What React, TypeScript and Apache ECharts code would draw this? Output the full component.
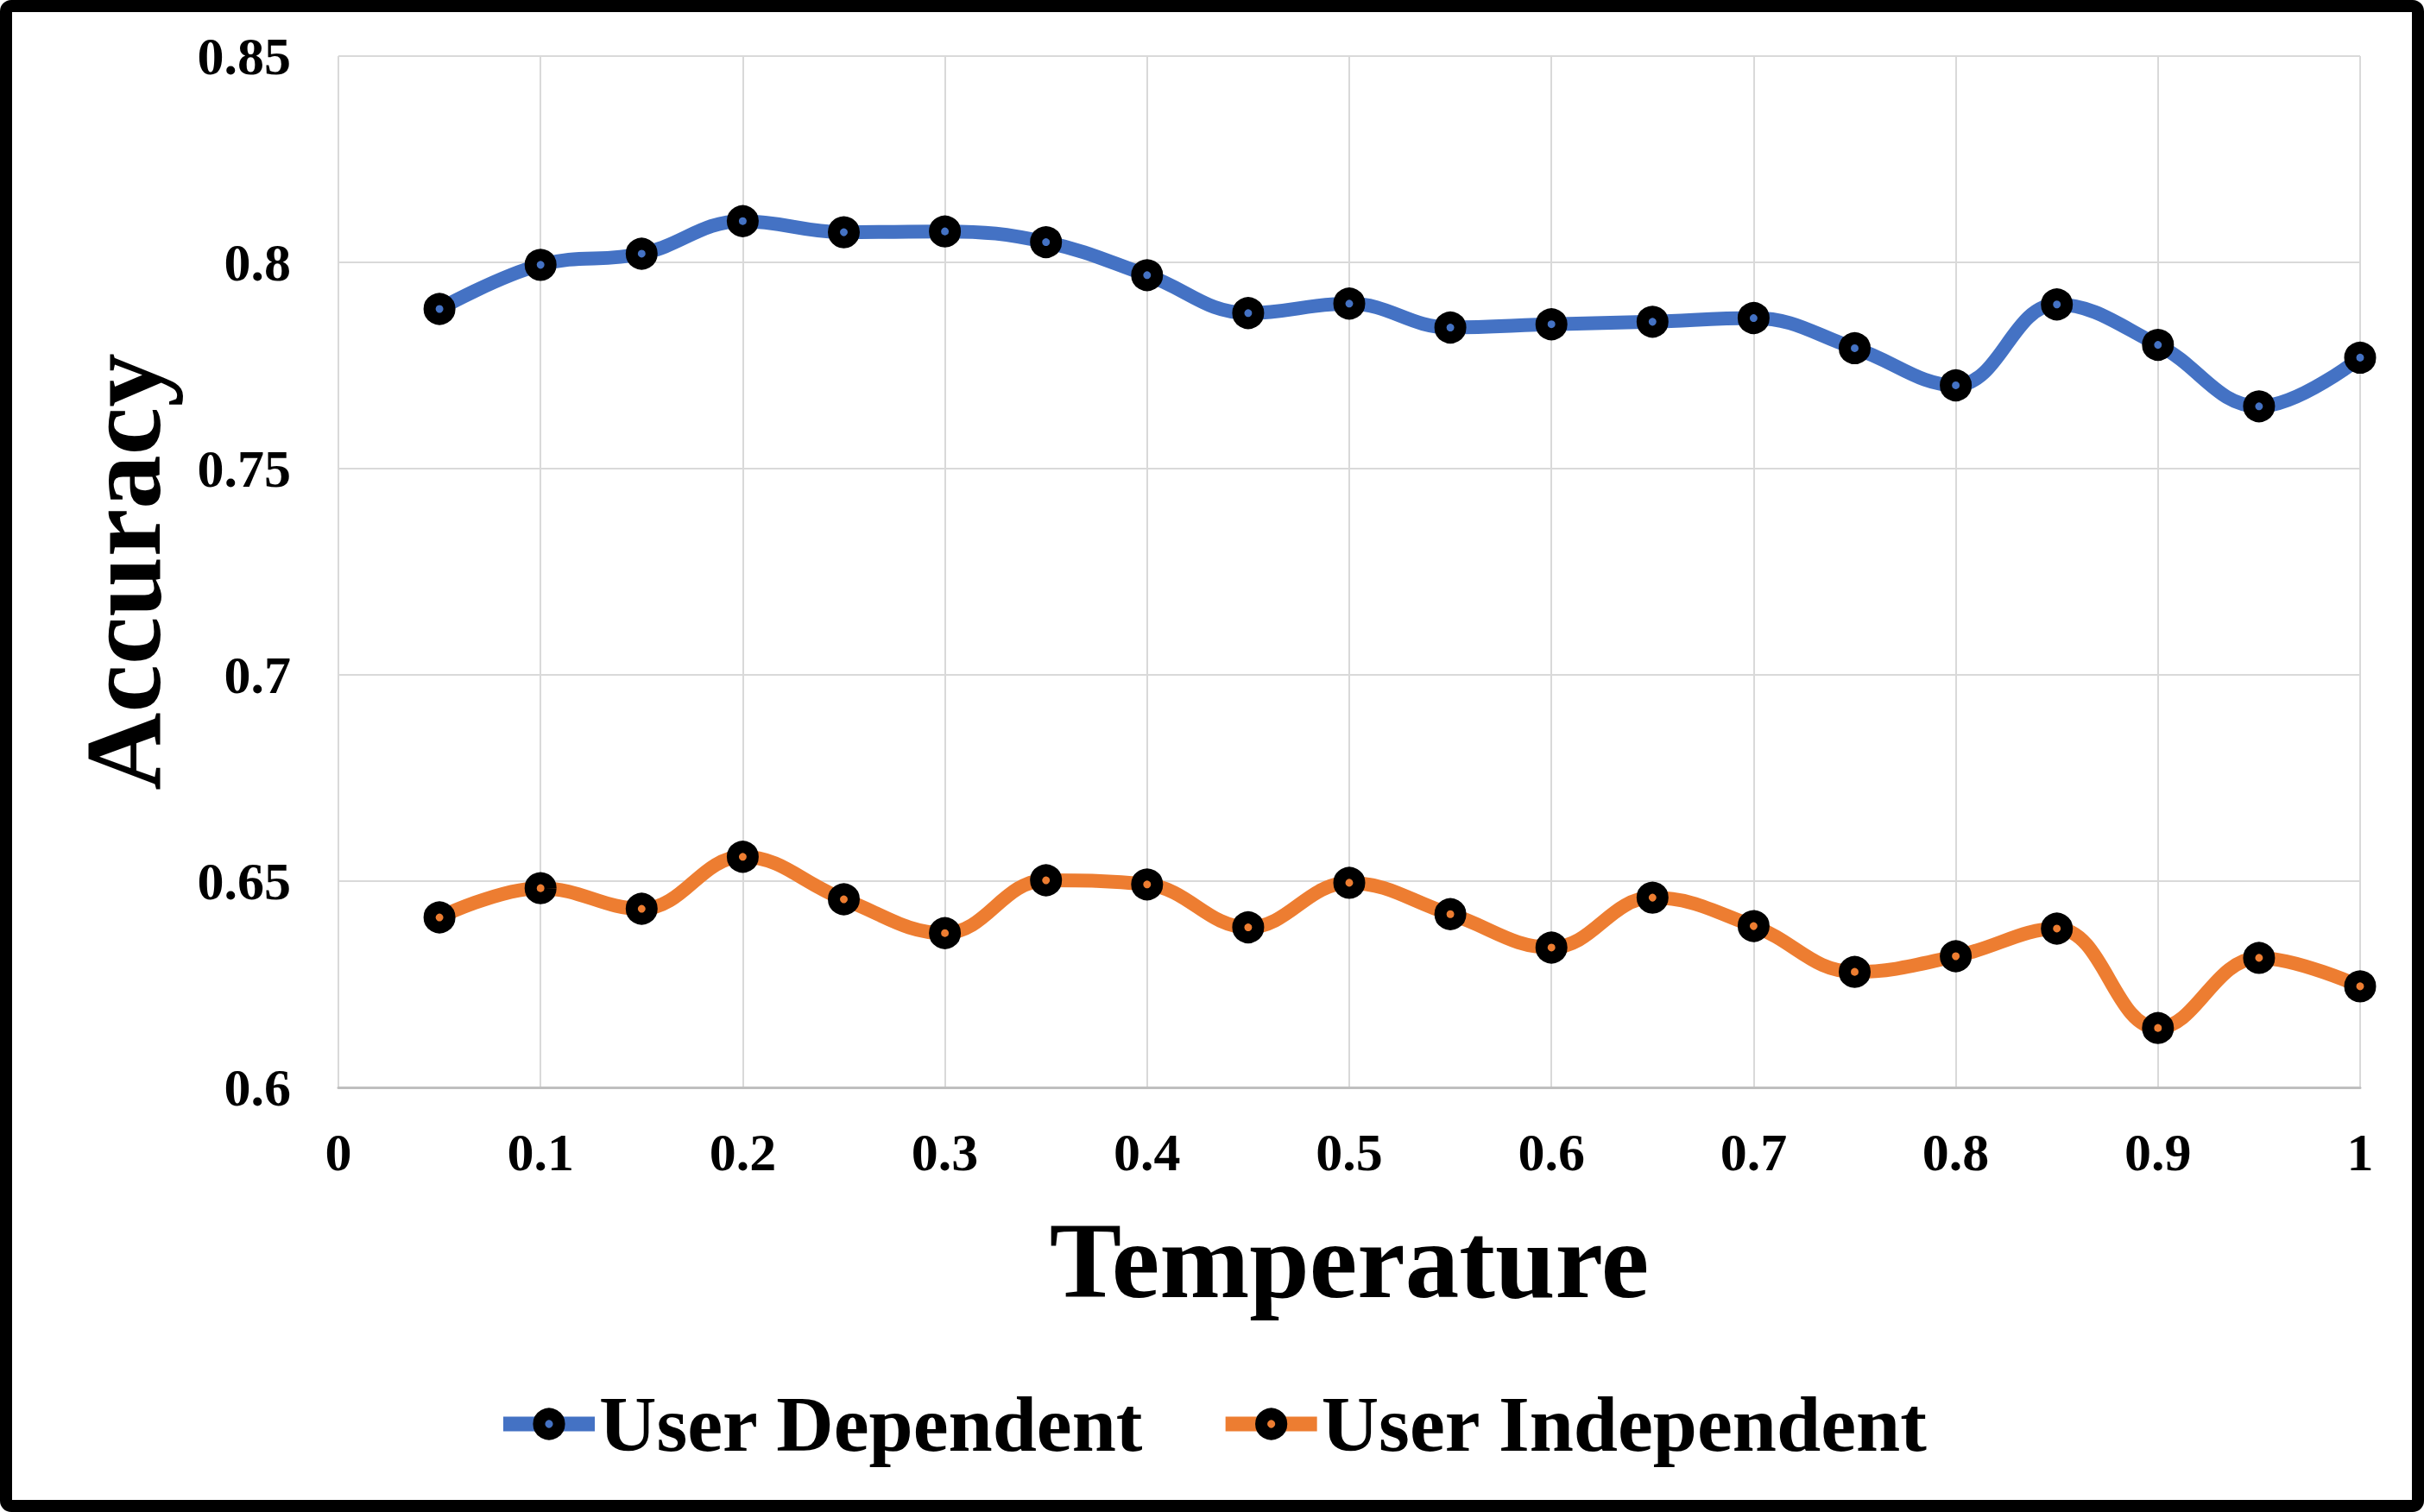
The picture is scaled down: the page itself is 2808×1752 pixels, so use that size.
import React, { useEffect, useRef } from "react";
import * as echarts from "echarts";

const temperature = [0.05, 0.1, 0.15, 0.2, 0.25, 0.3, 0.35, 0.4, 0.45, 0.5, 0.55, 0.6, 0.65, 0.7, 0.75, 0.8, 0.85, 0.9, 0.95, 1.0];
const userDependent = [0.7887, 0.7994, 0.8021, 0.81, 0.8073, 0.8075, 0.8049, 0.7969, 0.7877, 0.79, 0.7842, 0.785, 0.7856, 0.7865, 0.7792, 0.7702, 0.7898, 0.78, 0.7651, 0.7769];
const userIndependent = [0.6412, 0.6483, 0.6433, 0.6559, 0.6456, 0.6374, 0.6502, 0.6492, 0.6388, 0.6496, 0.642, 0.6339, 0.646, 0.6391, 0.628, 0.6318, 0.6385, 0.6144, 0.6314, 0.6245];
const seriesNames = ["User Dependent", "User Independent"];
const seriesColors = ["#4472C4", "#ED7D31"];
const xTitle = "Temperature";
const yTitle = "Accuracy";

const FONT = "'Liberation Serif', 'Times New Roman', serif";

const fmt = (v: number) => String(Number(v.toFixed(2)));

export default function App() {
  const ref = useRef<HTMLDivElement>(null);
  useEffect(() => {
    if (!ref.current) return;
    const chart = echarts.init(ref.current, null, { renderer: "svg" });
    const mkSeries = (name: string, values: number[], color: string) => ({
      name,
      type: "line",
      data: temperature.map((t, i) => [t, values[i]]),
      smooth: 0.4,
      symbol: "circle",
      symbolSize: 23,
      lineStyle: { color, width: 16 },
      itemStyle: { color, borderColor: "#000", borderWidth: 14 },
      emphasis: { disabled: true },
    });
    chart.setOption({
      animation: false,
      backgroundColor: "#fff",
      graphic: [
        {
          type: "rect",
          shape: { x: 7, y: 7, width: 2794, height: 1738, r: 6 },
          style: { fill: "none", stroke: "#000", lineWidth: 14 },
          z: 100,
          silent: true,
        },
      ],
      grid: { left: 392, right: 74, top: 65, bottom: 492, containLabel: false },
      legend: {
        data: seriesNames,
        left: "center",
        top: 1599,
        itemWidth: 106,
        itemHeight: 29,
        itemGap: 86,
        lineStyle: { width: 17 },
        itemStyle: { borderWidth: 14, borderColor: "#000" },
        textStyle: { fontFamily: FONT, fontWeight: "bold", fontSize: 92, color: "#000" },
        selectedMode: false,
      },
      xAxis: {
        type: "value",
        min: 0,
        max: 1,
        interval: 0.1,
        name: xTitle,
        nameLocation: "middle",
        nameGap: 138,
        nameTextStyle: { fontFamily: FONT, fontWeight: "bold", fontSize: 125, color: "#000" },
        axisLine: { show: true, lineStyle: { color: "#BFBFBF", width: 3 } },
        axisTick: { show: false },
        axisLabel: {
          margin: 44,
          fontFamily: FONT,
          fontWeight: "bold",
          fontSize: 62,
          color: "#000",
          formatter: fmt,
        },
        splitLine: { show: true, lineStyle: { color: "#D9D9D9", width: 2 } },
      },
      yAxis: {
        type: "value",
        min: 0.6,
        max: 0.85,
        interval: 0.05,
        name: yTitle,
        nameLocation: "middle",
        nameGap: 187,
        nameTextStyle: { fontFamily: FONT, fontWeight: "bold", fontSize: 125, color: "#000" },
        axisLine: { show: false },
        axisTick: { show: false },
        axisLabel: {
          margin: 55,
          fontFamily: FONT,
          fontWeight: "bold",
          fontSize: 62,
          color: "#000",
          formatter: fmt,
        },
        splitLine: { show: true, lineStyle: { color: "#D9D9D9", width: 2 } },
      },
      series: [
        mkSeries(seriesNames[0], userDependent, seriesColors[0]),
        mkSeries(seriesNames[1], userIndependent, seriesColors[1]),
      ],
    });
    return () => chart.dispose();
  }, []);
  return (
    <div
      ref={ref}
      style={{ position: "fixed", left: 0, top: 0, width: 2808, height: 1752, background: "#fff" }}
    />
  );
}
